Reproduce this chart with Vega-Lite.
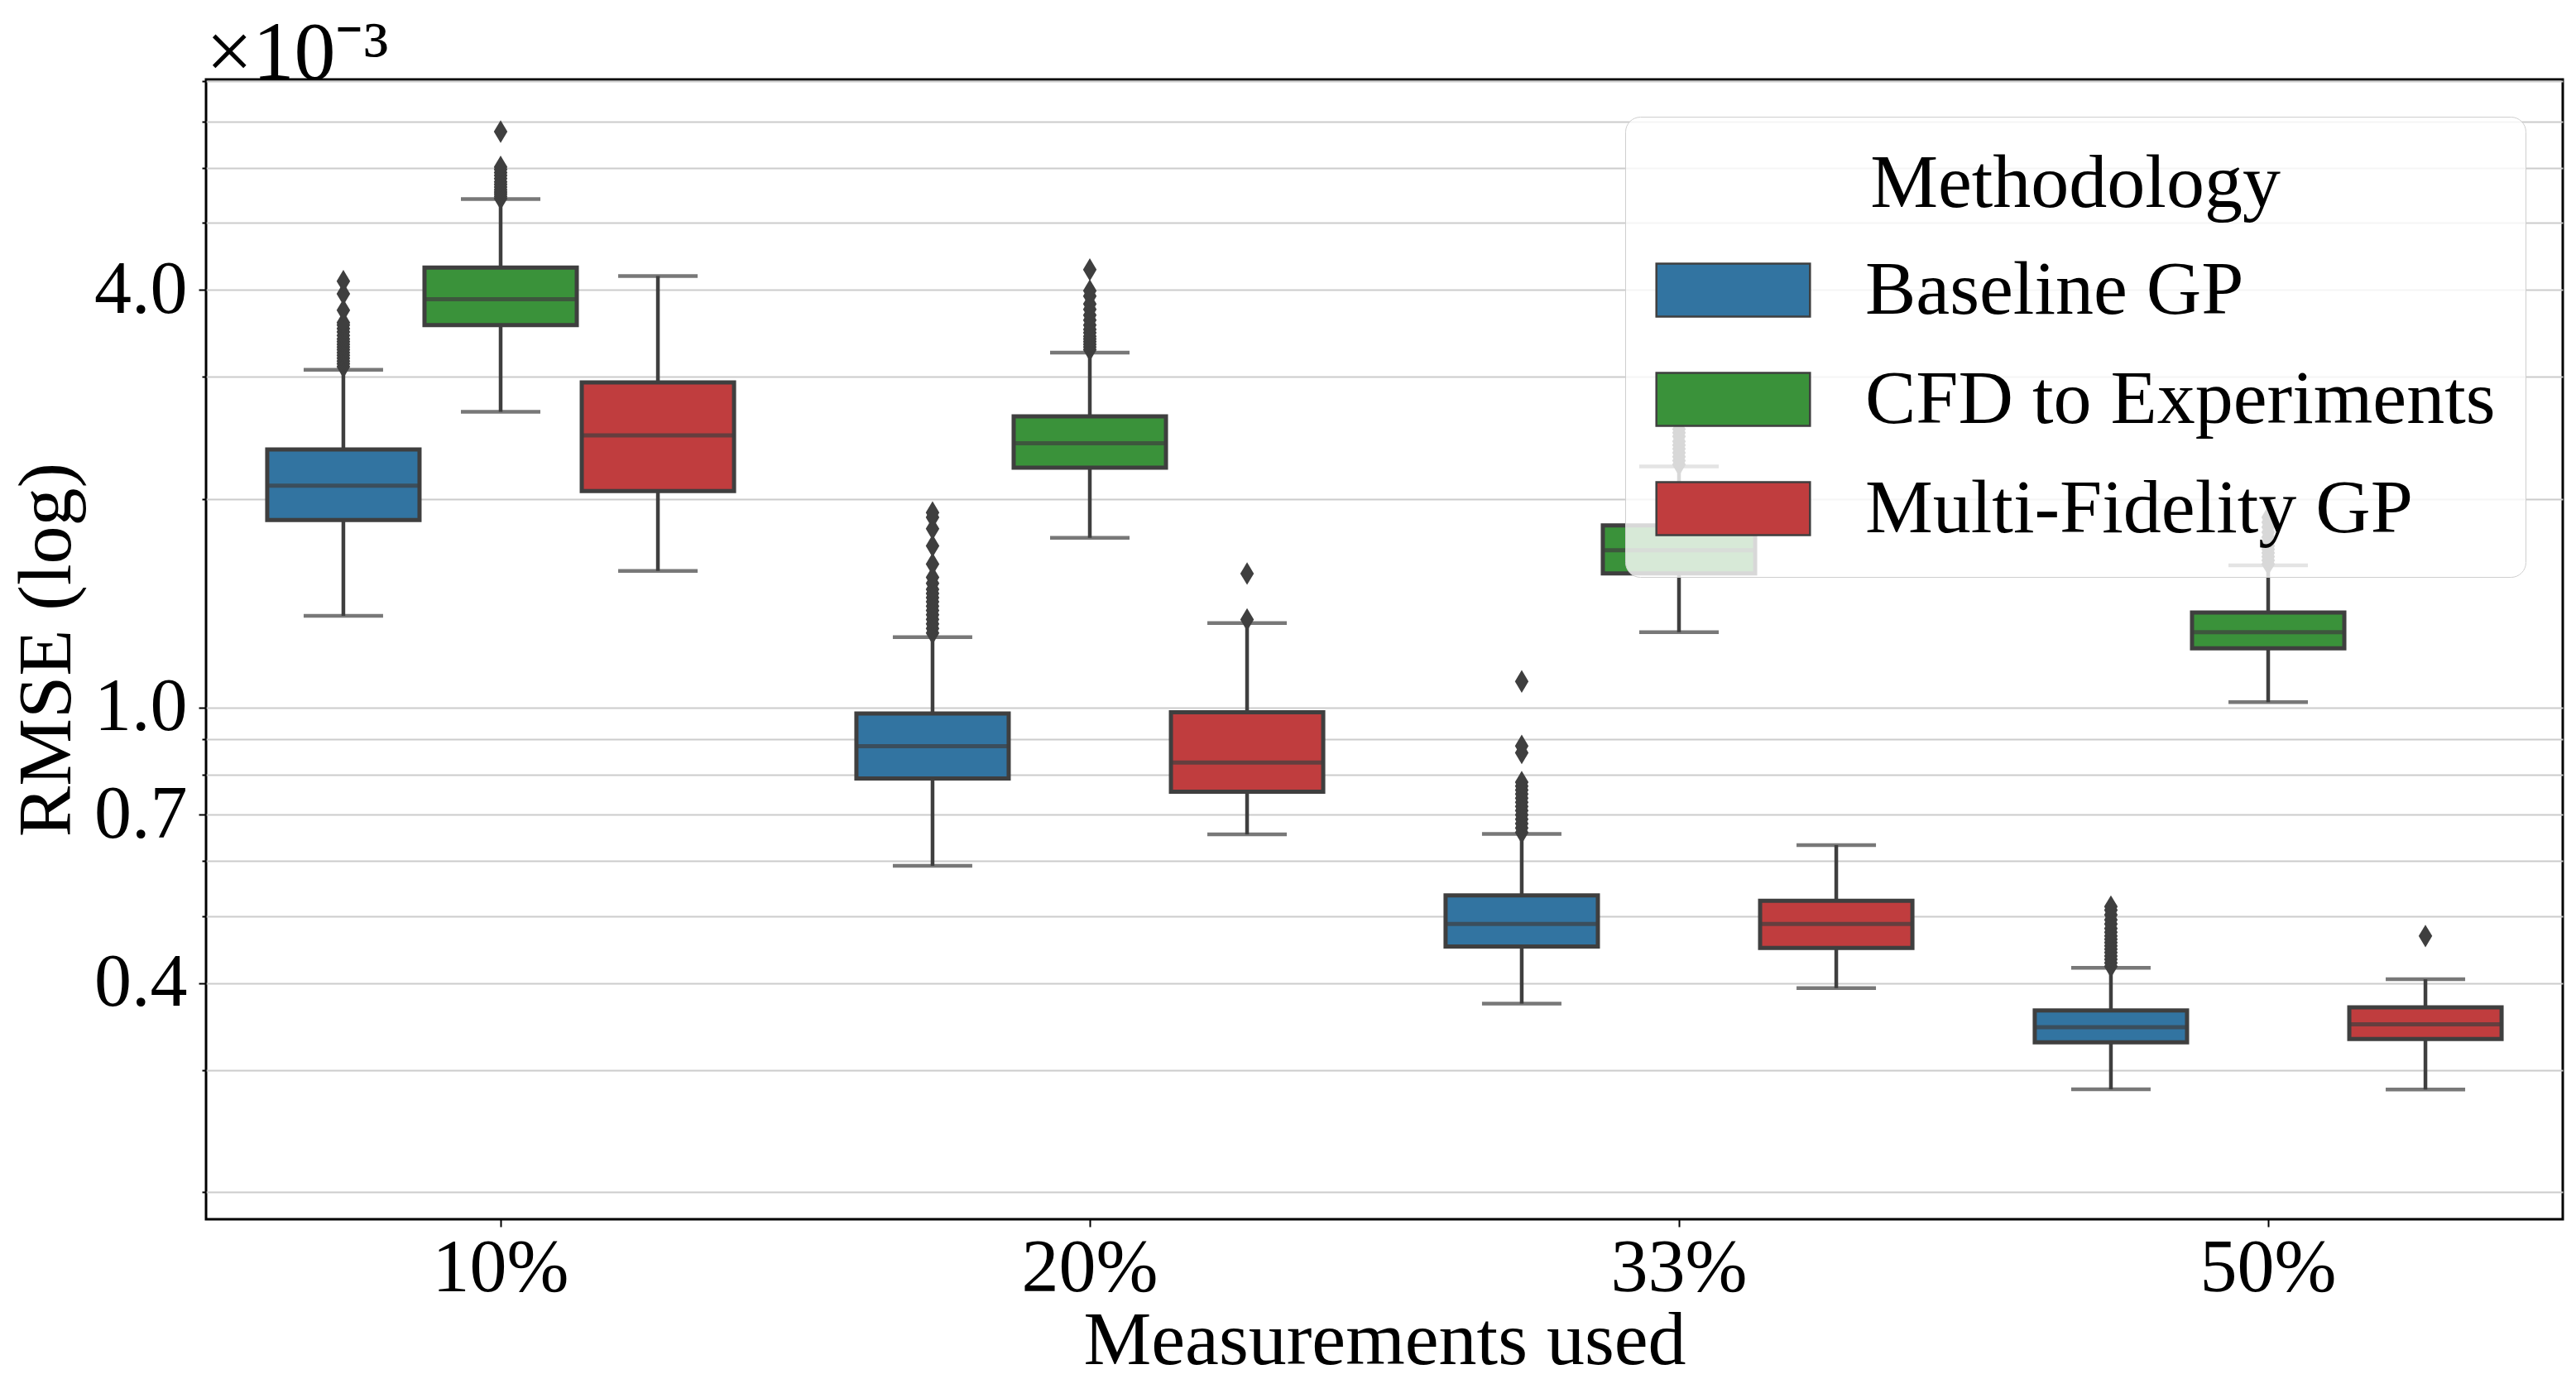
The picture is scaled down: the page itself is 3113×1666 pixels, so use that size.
{
  "$schema": "https://vega.github.io/schema/vega-lite/v6.json",
  "autosize": {"type": "fit", "contains": "padding"},
  "width": 3113,
  "height": 1666,
  "padding": {"left": 10, "right": 16, "top": 15, "bottom": 1},
  "background": "white",
  "title": {"text": "×10⁻³", "anchor": "start", "frame": "group", "font": "Liberation Serif", "fontSize": 100, "fontWeight": "normal", "color": "black", "offset": -63},
  "datasets": {
    "boxes": [
      {"pct": "10%", "method": "Baseline GP", "lo": 1.356, "q1": 1.863, "med": 2.089, "q3": 2.356, "hi": 3.07},
      {"pct": "10%", "method": "CFD to Experiments", "lo": 2.67, "q1": 3.56, "med": 3.88, "q3": 4.31, "hi": 5.41},
      {"pct": "10%", "method": "Multi-Fidelity GP", "lo": 1.574, "q1": 2.051, "med": 2.468, "q3": 2.944, "hi": 4.19},
      {"pct": "20%", "method": "Baseline GP", "lo": 0.591, "q1": 0.79, "med": 0.879, "q3": 0.98, "hi": 1.263},
      {"pct": "20%", "method": "CFD to Experiments", "lo": 1.757, "q1": 2.218, "med": 2.404, "q3": 2.63, "hi": 3.25},
      {"pct": "20%", "method": "Multi-Fidelity GP", "lo": 0.656, "q1": 0.756, "med": 0.833, "q3": 0.984, "hi": 1.323},
      {"pct": "33%", "method": "Baseline GP", "lo": 0.374, "q1": 0.452, "med": 0.487, "q3": 0.5355, "hi": 0.657},
      {"pct": "33%", "method": "CFD to Experiments", "lo": 1.284, "q1": 1.561, "med": 1.686, "q3": 1.831, "hi": 2.227},
      {"pct": "33%", "method": "Multi-Fidelity GP", "lo": 0.3937, "q1": 0.4497, "med": 0.487, "q3": 0.526, "hi": 0.633},
      {"pct": "50%", "method": "Baseline GP", "lo": 0.2814, "q1": 0.3287, "med": 0.3457, "q3": 0.3656, "hi": 0.421},
      {"pct": "50%", "method": "CFD to Experiments", "lo": 1.018, "q1": 1.217, "med": 1.284, "q3": 1.371, "hi": 1.603},
      {"pct": "50%", "method": "Multi-Fidelity GP", "lo": 0.2811, "q1": 0.3324, "med": 0.349, "q3": 0.3693, "hi": 0.4055}
    ],
    "outliers": [
      {"pct": "10%", "method": "Baseline GP", "value": 3.10},
      {"pct": "10%", "method": "Baseline GP", "value": 3.13},
      {"pct": "10%", "method": "Baseline GP", "value": 3.16},
      {"pct": "10%", "method": "Baseline GP", "value": 3.19},
      {"pct": "10%", "method": "Baseline GP", "value": 3.22},
      {"pct": "10%", "method": "Baseline GP", "value": 3.25},
      {"pct": "10%", "method": "Baseline GP", "value": 3.28},
      {"pct": "10%", "method": "Baseline GP", "value": 3.31},
      {"pct": "10%", "method": "Baseline GP", "value": 3.34},
      {"pct": "10%", "method": "Baseline GP", "value": 3.37},
      {"pct": "10%", "method": "Baseline GP", "value": 3.40},
      {"pct": "10%", "method": "Baseline GP", "value": 3.44},
      {"pct": "10%", "method": "Baseline GP", "value": 3.48},
      {"pct": "10%", "method": "Baseline GP", "value": 3.52},
      {"pct": "10%", "method": "Baseline GP", "value": 3.56},
      {"pct": "10%", "method": "Baseline GP", "value": 3.59},
      {"pct": "10%", "method": "Baseline GP", "value": 3.74},
      {"pct": "10%", "method": "Baseline GP", "value": 3.95},
      {"pct": "10%", "method": "Baseline GP", "value": 4.12},
      {"pct": "10%", "method": "CFD to Experiments", "value": 5.42},
      {"pct": "10%", "method": "CFD to Experiments", "value": 5.46},
      {"pct": "10%", "method": "CFD to Experiments", "value": 5.50},
      {"pct": "10%", "method": "CFD to Experiments", "value": 5.54},
      {"pct": "10%", "method": "CFD to Experiments", "value": 5.58},
      {"pct": "10%", "method": "CFD to Experiments", "value": 5.63},
      {"pct": "10%", "method": "CFD to Experiments", "value": 5.68},
      {"pct": "10%", "method": "CFD to Experiments", "value": 5.73},
      {"pct": "10%", "method": "CFD to Experiments", "value": 5.79},
      {"pct": "10%", "method": "CFD to Experiments", "value": 5.85},
      {"pct": "10%", "method": "CFD to Experiments", "value": 5.91},
      {"pct": "10%", "method": "CFD to Experiments", "value": 5.97},
      {"pct": "10%", "method": "CFD to Experiments", "value": 6.02},
      {"pct": "10%", "method": "CFD to Experiments", "value": 6.77},
      {"pct": "20%", "method": "Baseline GP", "value": 1.28},
      {"pct": "20%", "method": "Baseline GP", "value": 1.30},
      {"pct": "20%", "method": "Baseline GP", "value": 1.32},
      {"pct": "20%", "method": "Baseline GP", "value": 1.34},
      {"pct": "20%", "method": "Baseline GP", "value": 1.36},
      {"pct": "20%", "method": "Baseline GP", "value": 1.38},
      {"pct": "20%", "method": "Baseline GP", "value": 1.40},
      {"pct": "20%", "method": "Baseline GP", "value": 1.42},
      {"pct": "20%", "method": "Baseline GP", "value": 1.44},
      {"pct": "20%", "method": "Baseline GP", "value": 1.46},
      {"pct": "20%", "method": "Baseline GP", "value": 1.48},
      {"pct": "20%", "method": "Baseline GP", "value": 1.51},
      {"pct": "20%", "method": "Baseline GP", "value": 1.54},
      {"pct": "20%", "method": "Baseline GP", "value": 1.61},
      {"pct": "20%", "method": "Baseline GP", "value": 1.71},
      {"pct": "20%", "method": "Baseline GP", "value": 1.81},
      {"pct": "20%", "method": "Baseline GP", "value": 1.88},
      {"pct": "20%", "method": "Baseline GP", "value": 1.91},
      {"pct": "20%", "method": "CFD to Experiments", "value": 3.28},
      {"pct": "20%", "method": "CFD to Experiments", "value": 3.31},
      {"pct": "20%", "method": "CFD to Experiments", "value": 3.34},
      {"pct": "20%", "method": "CFD to Experiments", "value": 3.37},
      {"pct": "20%", "method": "CFD to Experiments", "value": 3.40},
      {"pct": "20%", "method": "CFD to Experiments", "value": 3.43},
      {"pct": "20%", "method": "CFD to Experiments", "value": 3.47},
      {"pct": "20%", "method": "CFD to Experiments", "value": 3.51},
      {"pct": "20%", "method": "CFD to Experiments", "value": 3.56},
      {"pct": "20%", "method": "CFD to Experiments", "value": 3.62},
      {"pct": "20%", "method": "CFD to Experiments", "value": 3.68},
      {"pct": "20%", "method": "CFD to Experiments", "value": 3.75},
      {"pct": "20%", "method": "CFD to Experiments", "value": 3.82},
      {"pct": "20%", "method": "CFD to Experiments", "value": 3.92},
      {"pct": "20%", "method": "CFD to Experiments", "value": 3.99},
      {"pct": "20%", "method": "CFD to Experiments", "value": 4.28},
      {"pct": "20%", "method": "Multi-Fidelity GP", "value": 1.339},
      {"pct": "20%", "method": "Multi-Fidelity GP", "value": 1.56},
      {"pct": "33%", "method": "Baseline GP", "value": 0.66},
      {"pct": "33%", "method": "Baseline GP", "value": 0.67},
      {"pct": "33%", "method": "Baseline GP", "value": 0.68},
      {"pct": "33%", "method": "Baseline GP", "value": 0.69},
      {"pct": "33%", "method": "Baseline GP", "value": 0.70},
      {"pct": "33%", "method": "Baseline GP", "value": 0.71},
      {"pct": "33%", "method": "Baseline GP", "value": 0.72},
      {"pct": "33%", "method": "Baseline GP", "value": 0.73},
      {"pct": "33%", "method": "Baseline GP", "value": 0.74},
      {"pct": "33%", "method": "Baseline GP", "value": 0.75},
      {"pct": "33%", "method": "Baseline GP", "value": 0.76},
      {"pct": "33%", "method": "Baseline GP", "value": 0.77},
      {"pct": "33%", "method": "Baseline GP", "value": 0.78},
      {"pct": "33%", "method": "Baseline GP", "value": 0.86},
      {"pct": "33%", "method": "Baseline GP", "value": 0.88},
      {"pct": "33%", "method": "Baseline GP", "value": 1.09},
      {"pct": "33%", "method": "CFD to Experiments", "value": 2.24},
      {"pct": "33%", "method": "CFD to Experiments", "value": 2.27},
      {"pct": "33%", "method": "CFD to Experiments", "value": 2.30},
      {"pct": "33%", "method": "CFD to Experiments", "value": 2.33},
      {"pct": "33%", "method": "CFD to Experiments", "value": 2.36},
      {"pct": "33%", "method": "CFD to Experiments", "value": 2.39},
      {"pct": "33%", "method": "CFD to Experiments", "value": 2.42},
      {"pct": "33%", "method": "CFD to Experiments", "value": 2.46},
      {"pct": "33%", "method": "CFD to Experiments", "value": 2.49},
      {"pct": "33%", "method": "CFD to Experiments", "value": 2.52},
      {"pct": "50%", "method": "Baseline GP", "value": 0.423},
      {"pct": "50%", "method": "Baseline GP", "value": 0.428},
      {"pct": "50%", "method": "Baseline GP", "value": 0.433},
      {"pct": "50%", "method": "Baseline GP", "value": 0.438},
      {"pct": "50%", "method": "Baseline GP", "value": 0.443},
      {"pct": "50%", "method": "Baseline GP", "value": 0.448},
      {"pct": "50%", "method": "Baseline GP", "value": 0.453},
      {"pct": "50%", "method": "Baseline GP", "value": 0.458},
      {"pct": "50%", "method": "Baseline GP", "value": 0.463},
      {"pct": "50%", "method": "Baseline GP", "value": 0.468},
      {"pct": "50%", "method": "Baseline GP", "value": 0.474},
      {"pct": "50%", "method": "Baseline GP", "value": 0.480},
      {"pct": "50%", "method": "Baseline GP", "value": 0.487},
      {"pct": "50%", "method": "Baseline GP", "value": 0.494},
      {"pct": "50%", "method": "Baseline GP", "value": 0.502},
      {"pct": "50%", "method": "Baseline GP", "value": 0.510},
      {"pct": "50%", "method": "Baseline GP", "value": 0.516},
      {"pct": "50%", "method": "CFD to Experiments", "value": 1.61},
      {"pct": "50%", "method": "CFD to Experiments", "value": 1.63},
      {"pct": "50%", "method": "CFD to Experiments", "value": 1.65},
      {"pct": "50%", "method": "CFD to Experiments", "value": 1.67},
      {"pct": "50%", "method": "CFD to Experiments", "value": 1.69},
      {"pct": "50%", "method": "CFD to Experiments", "value": 1.71},
      {"pct": "50%", "method": "CFD to Experiments", "value": 1.73},
      {"pct": "50%", "method": "CFD to Experiments", "value": 1.76},
      {"pct": "50%", "method": "CFD to Experiments", "value": 1.79},
      {"pct": "50%", "method": "CFD to Experiments", "value": 1.82},
      {"pct": "50%", "method": "CFD to Experiments", "value": 1.85},
      {"pct": "50%", "method": "CFD to Experiments", "value": 1.88},
      {"pct": "50%", "method": "Multi-Fidelity GP", "value": 0.468}
    ]
  },
  "encoding": {
    "x": {
      "field": "pct", "type": "nominal", "sort": ["10%", "20%", "33%", "50%"],
      "title": "Measurements used",
      "scale": {"paddingInner": 0, "paddingOuter": 0},
      "axis": {"labelAngle": 0, "grid": false, "domain": false, "tickSize": 9, "tickWidth": 2, "tickColor": "black", "labelPadding": 6, "titlePadding": -3}
    },
    "xOffset": {
      "field": "method", "type": "nominal", "sort": ["Baseline GP", "CFD to Experiments", "Multi-Fidelity GP"],
      "scale": {"paddingInner": 0.0316, "paddingOuter": 0.389}
    }
  },
  "layer": [
    {
      "data": {"name": "boxes"},
      "mark": {"type": "rule", "color": "#3f3f3f", "strokeWidth": 4.5},
      "encoding": {
        "y": {
          "field": "lo", "type": "quantitative", "title": "RMSE (log)",
          "scale": {"type": "log", "domain": [0.1827, 8.05], "nice": false, "zero": false},
          "axis": {
            "values": [0.2, 0.3, 0.4, 0.5, 0.6, 0.7, 0.8, 0.9, 1, 2, 3, 4, 5, 6, 7, 8],
            "labelExpr": "datum.value == 4 ? '4.0' : datum.value == 1 ? '1.0' : datum.value == 0.7 ? '0.7' : datum.value == 0.4 ? '0.4' : ''",
            "labelOverlap": false,
            "labelBound": false,
            "grid": true,
            "domain": false,
            "tickColor": "black",
            "tickWidth": 2,
            "tickSize": {"condition": {"test": "datum.value == 4 || datum.value == 1 || datum.value == 0.7 || datum.value == 0.4", "value": 9}, "value": 5},
            "labelPadding": 14,
            "titlePadding": 10
          }
        },
        "y2": {"field": "hi"}
      }
    },
    {
      "data": {"name": "boxes"},
      "mark": {"type": "tick", "color": "#3f3f3f", "thickness": 4.5, "size": 96, "orient": "horizontal"},
      "encoding": {
        "y": {"field": "lo", "type": "quantitative", "title": "RMSE (log)", "scale": {"type": "log", "domain": [0.1827, 8.05], "nice": false, "zero": false}}
      }
    },
    {
      "data": {"name": "boxes"},
      "mark": {"type": "tick", "color": "#3f3f3f", "thickness": 4.5, "size": 96, "orient": "horizontal"},
      "encoding": {
        "y": {"field": "hi", "type": "quantitative", "title": "RMSE (log)", "scale": {"type": "log", "domain": [0.1827, 8.05], "nice": false, "zero": false}}
      }
    },
    {
      "data": {"name": "boxes"},
      "mark": {"type": "bar", "stroke": "#3f3f3f", "strokeWidth": 5, "opacity": 1},
      "encoding": {
        "y": {"field": "q1", "type": "quantitative", "title": "RMSE (log)", "scale": {"type": "log", "domain": [0.1827, 8.05], "nice": false, "zero": false}},
        "y2": {"field": "q3"},
        "color": {
          "field": "method", "type": "nominal", "title": "Methodology",
          "scale": {"domain": ["Baseline GP", "CFD to Experiments", "Multi-Fidelity GP"], "range": ["#3274a1", "#3a923a", "#c03d3e"]},
          "legend": {
            "orient": "top-right", "offset": 45, "zindex": 1,
            "fillColor": "rgba(255,255,255,0.8)", "strokeColor": "#cfcfcf", "cornerRadius": 18,
            "padding": 36,
            "titleFont": "Liberation Serif", "titleFontSize": 92, "titleFontWeight": "normal", "titleColor": "black", "titleAnchor": "middle", "titlePadding": 16, "titleLimit": 0,
            "labelFont": "Liberation Serif", "labelFontSize": 92, "labelColor": "black", "labelOffset": 94, "labelLimit": 0,
            "rowPadding": 20,
            "symbolOffset": 29,
            "symbolType": "M-1.45,-0.5H1.45V0.5H-1.45Z", "symbolSize": 16384,
            "symbolStrokeColor": "#3f3f3f", "symbolStrokeWidth": 2.5, "symbolOpacity": 1
          }
        }
      }
    },
    {
      "data": {"name": "boxes"},
      "mark": {"type": "tick", "color": "#3f3f3f", "thickness": 5, "size": 184, "orient": "horizontal"},
      "encoding": {
        "y": {"field": "med", "type": "quantitative", "title": "RMSE (log)", "scale": {"type": "log", "domain": [0.1827, 8.05], "nice": false, "zero": false}}
      }
    },
    {
      "data": {"name": "outliers"},
      "mark": {"type": "point", "shape": "M0,-1L0.6,0L0,1L-0.6,0Z", "filled": true, "color": "#3f3f3f", "size": 750, "opacity": 1},
      "encoding": {
        "y": {"field": "value", "type": "quantitative", "title": "RMSE (log)", "scale": {"type": "log", "domain": [0.1827, 8.05], "nice": false, "zero": false}}
      }
    }
  ],
  "config": {
    "view": {"stroke": "black", "strokeWidth": 3},
    "font": "Liberation Serif",
    "axis": {
      "labelFont": "Liberation Serif", "labelFontSize": 90, "labelColor": "black",
      "titleFont": "Liberation Serif", "titleFontSize": 92, "titleFontWeight": "normal", "titleColor": "black",
      "gridColor": "#cccccc", "gridWidth": 2.2
    }
  }
}
